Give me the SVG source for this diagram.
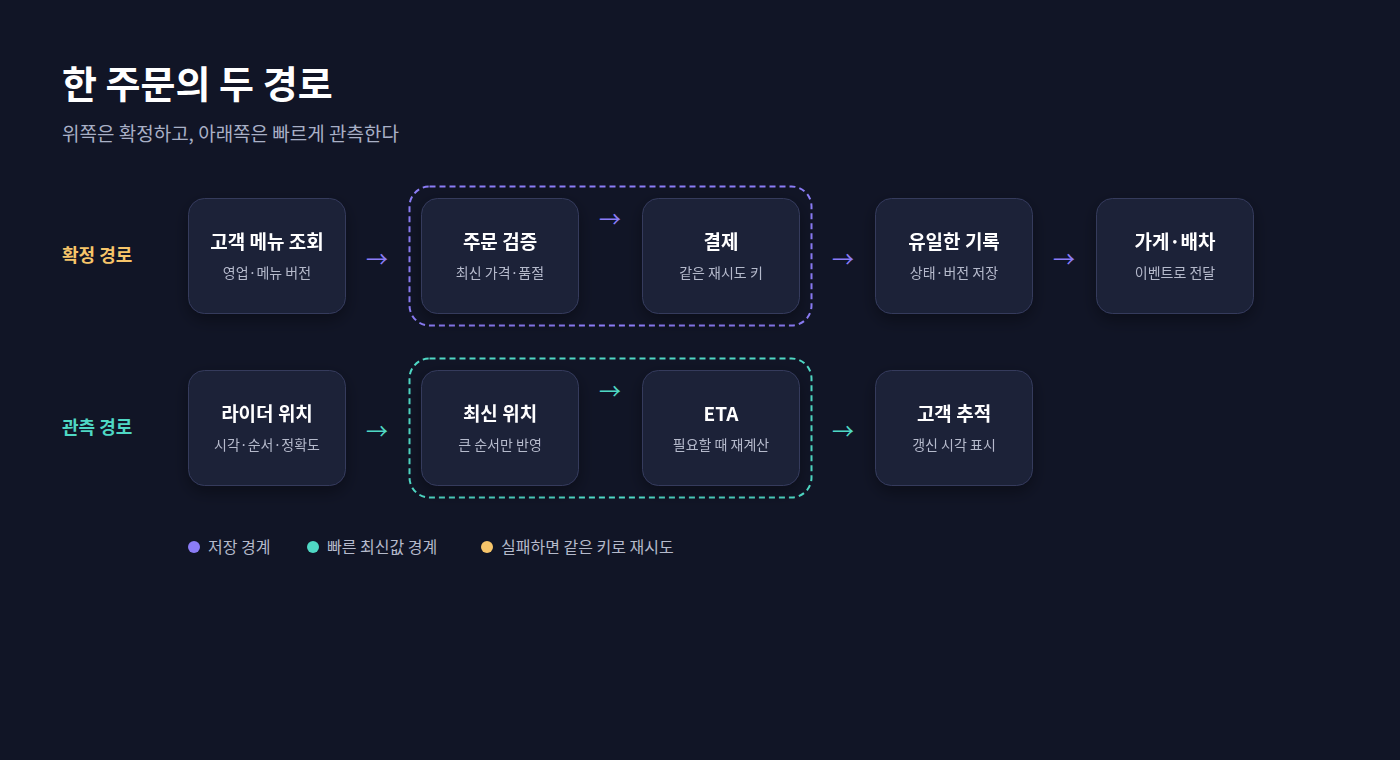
<svg xmlns="http://www.w3.org/2000/svg" width="1400" height="760" viewBox="0 0 1400 760">
<style>
text{font-family:"Noto Sans CJK KR","Noto Sans",sans-serif}
.box{fill:#1b2038;stroke:#353b5c;stroke-width:1}
.t{fill:#fff;font-size:19px;font-weight:700;text-anchor:middle}
.s{fill:#b5bacb;font-size:14px;text-anchor:middle}
.ap{fill:#8b7cf6;font-size:22px;text-anchor:middle}
.at{fill:#4fd8c4;font-size:22px;text-anchor:middle}
.lg{fill:#b5bacb;font-size:16px}
</style>
<defs><filter id="sh" x="-30%" y="-30%" width="160%" height="160%"><feDropShadow dx="0" dy="6" stdDeviation="8" flood-color="#000" flood-opacity="0.35"/></filter></defs>
<rect width="1400" height="760" fill="#111526"/>
<text x="62" y="98" fill="#fff" font-size="38" font-weight="700" style="font-family:'Noto Sans CJK KR',sans-serif">한 주문의 두 경로</text>
<text x="62" y="141" fill="#a9b0c6" font-size="19">위쪽은 확정하고, 아래쪽은 빠르게 관측한다</text>
<text x="62" y="262" fill="#f7c56a" font-size="18" font-weight="700">확정 경로</text>
<text x="62" y="434" fill="#4fd8c4" font-size="18" font-weight="700">관측 경로</text>
<g id="connectors">
<rect x="409.5" y="186.5" width="402" height="139" rx="20" fill="none" stroke="#8b7cf6" stroke-width="2" stroke-dasharray="6 4"/>
<rect x="409.5" y="358.5" width="402" height="139" rx="20" fill="none" stroke="#4fd8c4" stroke-width="2" stroke-dasharray="6 4"/>
<text class="ap" x="377" y="267">→</text>
<text class="ap" x="610" y="227">→</text>
<text class="ap" x="843" y="267">→</text>
<text class="ap" x="1064" y="267">→</text>
<text class="at" x="377" y="439">→</text>
<text class="at" x="610" y="399">→</text>
<text class="at" x="843" y="439">→</text>
</g>
<g id="n1" filter="url(#sh)"><rect class="box" x="188.5" y="198.5" width="157" height="115" rx="16"/><text class="t" x="267" y="249">고객 메뉴 조회</text><text class="s" x="267" y="278">영업·메뉴 버전</text></g>
<g id="n2" filter="url(#sh)"><rect class="box" x="421.5" y="198.5" width="157" height="115" rx="16"/><text class="t" x="500" y="249">주문 검증</text><text class="s" x="500" y="278">최신 가격·품절</text></g>
<g id="n3" filter="url(#sh)"><rect class="box" x="642.5" y="198.5" width="157" height="115" rx="16"/><text class="t" x="721" y="249">결제</text><text class="s" x="721" y="278">같은 재시도 키</text></g>
<g id="n4" filter="url(#sh)"><rect class="box" x="875.5" y="198.5" width="157" height="115" rx="16"/><text class="t" x="954" y="249">유일한 기록</text><text class="s" x="954" y="278">상태·버전 저장</text></g>
<g id="n5" filter="url(#sh)"><rect class="box" x="1096.5" y="198.5" width="157" height="115" rx="16"/><text class="t" x="1175" y="249">가게·배차</text><text class="s" x="1175" y="278">이벤트로 전달</text></g>
<g id="m1" filter="url(#sh)"><rect class="box" x="188.5" y="370.5" width="157" height="115" rx="16"/><text class="t" x="267" y="421">라이더 위치</text><text class="s" x="267" y="450">시각·순서·정확도</text></g>
<g id="m2" filter="url(#sh)"><rect class="box" x="421.5" y="370.5" width="157" height="115" rx="16"/><text class="t" x="500" y="421">최신 위치</text><text class="s" x="500" y="450">큰 순서만 반영</text></g>
<g id="m3" filter="url(#sh)"><rect class="box" x="642.5" y="370.5" width="157" height="115" rx="16"/><text class="t" x="721" y="421">ETA</text><text class="s" x="721" y="450">필요할 때 재계산</text></g>
<g id="m4" filter="url(#sh)"><rect class="box" x="875.5" y="370.5" width="157" height="115" rx="16"/><text class="t" x="954" y="421">고객 추적</text><text class="s" x="954" y="450">갱신 시각 표시</text></g>
<g id="legend">
<circle cx="194" cy="547" r="6" fill="#8b7cf6"/><text class="lg" x="208" y="553">저장 경계</text>
<circle cx="313" cy="547" r="6" fill="#4fd8c4"/><text class="lg" x="327" y="553">빠른 최신값 경계</text>
<circle cx="487" cy="547" r="6" fill="#f7c56a"/><text class="lg" x="501" y="553">실패하면 같은 키로 재시도</text>
</g>
</svg>
